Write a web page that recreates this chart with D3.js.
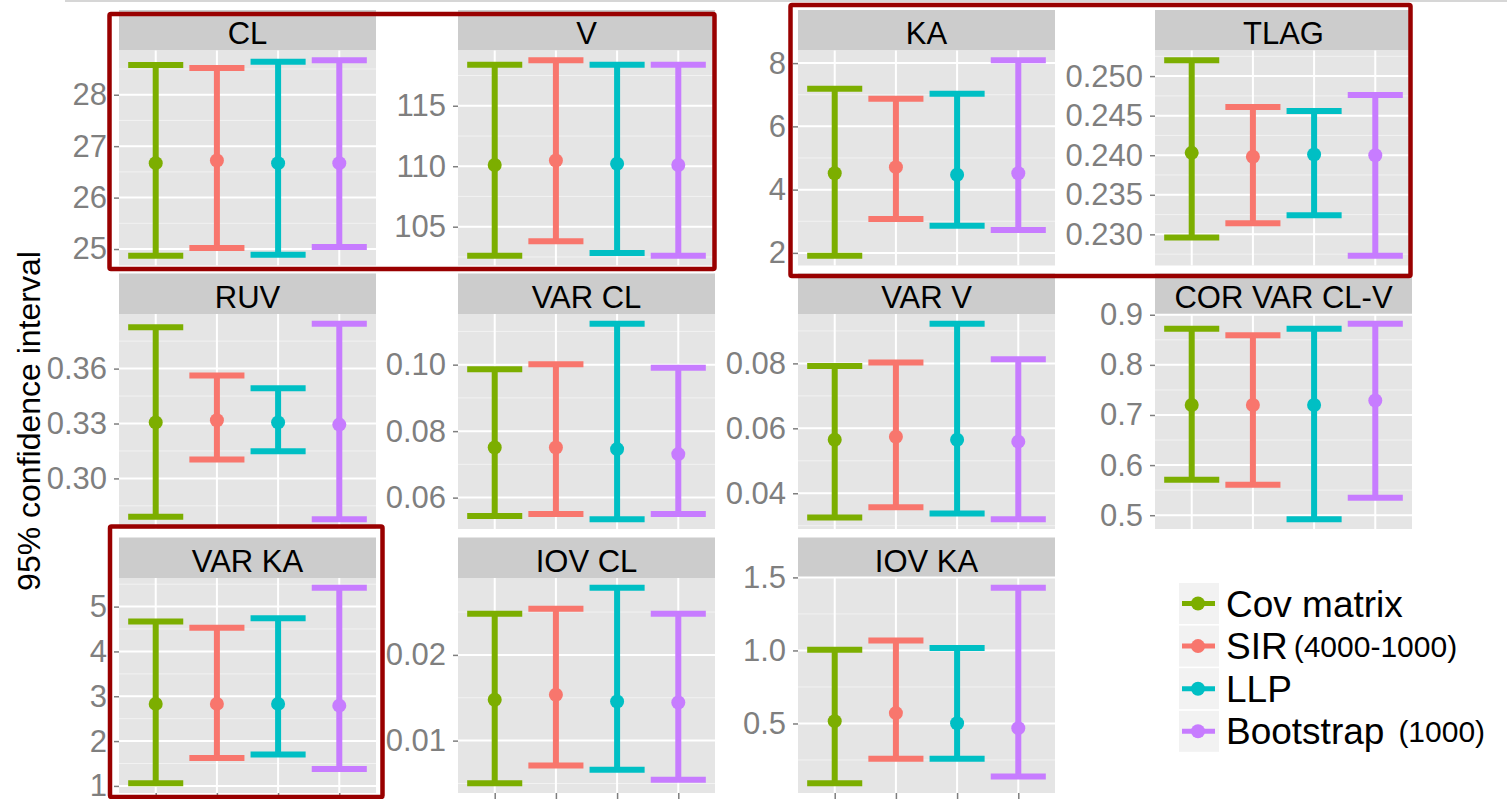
<!DOCTYPE html>
<html>
<head>
<meta charset="utf-8">
<script src="https://cdn.jsdelivr.net/npm/d3@7"></script>
<style>
  html, body { margin: 0; padding: 0; background: #ffffff; }
  svg { display: block; }
  text { font-family: "Liberation Sans", Arial, sans-serif; }
</style>
</head>
<body>
<script>
// ---------------- data ----------------
const panels = ["CL", "V", "KA", "TLAG", "RUV", "VAR CL", "VAR V", "COR VAR CL-V", "VAR KA", "IOV CL", "IOV KA"];
const methods = ["Cov matrix", "SIR", "LLP", "Bootstrap"];
const methodNotes = ["", "(4000-1000)", "", "(1000)"];
const colors = ["#7CAE00", "#F8766D", "#00BFC4", "#C77CFF"];

// lower bound / estimate / upper bound per method, in panel order
const covLower = [24.87, 102.6, 1.91, 0.2296, 0.279, 0.0545, 0.0325, 0.571, 1.06, 0.00503, 0.091];
const covEst   = [26.67, 110.1, 4.52, 0.2403, 0.3306, 0.0751, 0.0565, 0.720, 2.83, 0.01477, 0.516];
const covUpper = [28.58, 118.4, 7.19, 0.2520, 0.3826, 0.0986, 0.0792, 0.872, 4.67, 0.0248, 1.005];

const sirLower = [25.02, 103.79, 3.07, 0.2314, 0.3103, 0.0551, 0.0357, 0.561, 1.62, 0.00709, 0.258];
const sirEst   = [26.72, 110.47, 4.71, 0.2398, 0.3318, 0.0751, 0.0574, 0.720, 2.83, 0.01535, 0.571];
const sirUpper = [28.52, 118.76, 6.87, 0.2461, 0.3562, 0.1001, 0.0803, 0.859, 4.53, 0.02538, 1.068];

const llpLower = [24.89, 102.83, 2.86, 0.2324, 0.3148, 0.0535, 0.0338, 0.492, 1.70, 0.00659, 0.258];
const llpEst   = [26.67, 110.2, 4.47, 0.2401, 0.3306, 0.0746, 0.0565, 0.720, 2.83, 0.01457, 0.502];
const llpUpper = [28.64, 118.4, 7.03, 0.2456, 0.3493, 0.1123, 0.0922, 0.872, 4.74, 0.02783, 1.016];

const bootLower = [25.04, 102.6, 2.72, 0.2273, 0.2777, 0.0551, 0.0320, 0.535, 1.38, 0.00543, 0.137];
const bootEst   = [26.67, 110.1, 4.52, 0.2400, 0.3294, 0.0731, 0.0559, 0.729, 2.79, 0.01445, 0.468];
const bootUpper = [28.67, 118.4, 8.09, 0.2476, 0.3845, 0.0991, 0.0813, 0.882, 5.42, 0.0248, 1.429];

const yTickLabels = [
  ["25", "26", "27", "28"],
  ["105", "110", "115"],
  ["2", "4", "6", "8"],
  ["0.230", "0.235", "0.240", "0.245", "0.250"],
  ["0.30", "0.33", "0.36"],
  ["0.06", "0.08", "0.10"],
  ["0.04", "0.06", "0.08"],
  ["0.5", "0.6", "0.7", "0.8", "0.9"],
  ["1", "2", "3", "4", "5"],
  ["0.01", "0.02"],
  ["0.5", "1.0", "1.5"]
];
const yTitle = "95% confidence interval";

const lowers = [covLower, sirLower, llpLower, bootLower];
const ests = [covEst, sirEst, llpEst, bootEst];
const uppers = [covUpper, sirUpper, llpUpper, bootUpper];

// ---------------- layout ----------------
const W = 1507, H = 799;
const colLeft = [119, 458, 798, 1155];
const panelW = 257;
const stripTop = [10, 273.5, 537.5];
const stripH = 40.5;
const panelH = 215;

const svg = d3.select("body").append("svg").attr("width", W).attr("height", H);

// thin grey line on top
svg.append("line").attr("x1", 65).attr("x2", W).attr("y1", 1).attr("y2", 1)
  .attr("stroke", "#c8c8c8").attr("stroke-width", 1.5);

panels.forEach((name, i) => {
  const row = Math.floor(i / 4), col = i % 4;
  const x0 = colLeft[col], x1 = x0 + panelW;
  const sTop = stripTop[row];
  const pTop = sTop + stripH, pBot = pTop + panelH;

  const lo = d3.min(lowers, a => a[i]);
  const hi = d3.max(uppers, a => a[i]);
  const pad = (hi - lo) * 0.05;
  const y = d3.scaleLinear().domain([lo - pad, hi + pad]).range([pBot, pTop]);
  const x = d3.scalePoint().domain(methods).range([x0, x1]).padding(0.6);
  const step = x.step();

  const g = svg.append("g");
  // strip
  g.append("rect").attr("x", x0).attr("y", sTop).attr("width", panelW).attr("height", stripH)
    .attr("fill", "#CCCCCC");
  g.append("text").attr("x", (x0 + x1) / 2).attr("y", sTop + stripH / 2 + 14)
    .attr("text-anchor", "middle").attr("font-size", 31).attr("fill", "#000").text(name);

  // panel background
  g.append("rect").attr("x", x0).attr("y", pTop).attr("width", panelW).attr("height", panelH)
    .attr("fill", "#E5E5E5");

  const majors = yTickLabels[i].map(Number);
  const d = majors[1] - majors[0];
  const minors = [majors[0] - d / 2].concat(majors.map(v => v + d / 2))
    .filter(v => v >= y.domain()[0] && v <= y.domain()[1]);

  g.selectAll(".minor").data(minors).enter().append("line")
    .attr("x1", x0).attr("x2", x1).attr("y1", v => y(v)).attr("y2", v => y(v))
    .attr("stroke", "#F2F2F2").attr("stroke-width", 1);
  g.selectAll(".major").data(majors).enter().append("line")
    .attr("x1", x0).attr("x2", x1).attr("y1", v => y(v)).attr("y2", v => y(v))
    .attr("stroke", "#FFFFFF").attr("stroke-width", 2);
  g.selectAll(".vgrid").data(methods).enter().append("line")
    .attr("x1", m => x(m)).attr("x2", m => x(m)).attr("y1", pTop).attr("y2", pBot)
    .attr("stroke", "#FFFFFF").attr("stroke-width", 2);

  // y axis
  const yAxis = d3.axisLeft(y).tickValues(majors)
    .tickFormat((v, k) => yTickLabels[i][k]).tickSize(5).tickPadding(7);
  const ag = g.append("g").attr("transform", `translate(${x0},0)`).call(yAxis);
  ag.select(".domain").remove();
  ag.selectAll(".tick line").attr("stroke", "#7F7F7F").attr("stroke-width", 1.5);
  ag.selectAll(".tick text").attr("fill", "#7F7F7F").attr("font-size", 31)
    .attr("font-family", "Liberation Sans, Arial, sans-serif");

  // x axis ticks only on bottom row
  if (row === 2) {
    const xAxis = d3.axisBottom(x).tickFormat("").tickSize(6);
    const xg = g.append("g").attr("transform", `translate(0,${pBot})`).call(xAxis);
    xg.select(".domain").remove();
    xg.selectAll(".tick line").attr("stroke", "#7F7F7F").attr("stroke-width", 1.5);
  }

  // error bars
  methods.forEach((m, k) => {
    const cx = x(m);
    const half = step * 0.45;
    const c = colors[k];
    g.append("line").attr("x1", cx).attr("x2", cx)
      .attr("y1", y(lowers[k][i])).attr("y2", y(uppers[k][i]))
      .attr("stroke", c).attr("stroke-width", 6);
    [lowers[k][i], uppers[k][i]].forEach(v => {
      g.append("line").attr("x1", cx - half).attr("x2", cx + half)
        .attr("y1", y(v)).attr("y2", y(v)).attr("stroke", c).attr("stroke-width", 6);
    });
    g.append("circle").attr("cx", cx).attr("cy", y(ests[k][i])).attr("r", 7).attr("fill", c);
  });
});

// y axis title
svg.append("text").attr("transform", "translate(40,421) rotate(-90)")
  .attr("text-anchor", "middle").attr("font-size", 32).attr("fill", "#000").text(yTitle);

// legend
const legX = 1179, legY = 583, keyW = 40, keyH = 41, keyStep = 42.6;
methods.forEach((m, k) => {
  const ky = legY + k * keyStep;
  const lg = svg.append("g");
  lg.append("rect").attr("x", legX).attr("y", ky).attr("width", keyW).attr("height", keyH).attr("fill", "#F2F2F2");
  lg.append("line").attr("x1", legX + 3).attr("x2", legX + keyW - 4)
    .attr("y1", ky + keyH / 2).attr("y2", ky + keyH / 2)
    .attr("stroke", colors[k]).attr("stroke-width", 5);
  lg.append("circle").attr("cx", legX + keyW / 2 - 1).attr("cy", ky + keyH / 2).attr("r", 7).attr("fill", colors[k]);
  const t = lg.append("text").attr("x", 1226).attr("y", ky + keyH / 2 + 13)
    .attr("font-size", 37).attr("fill", "#000").text(m);
  if (methodNotes[k]) {
    const w = t.node().getComputedTextLength();
    lg.append("text").attr("x", 1226 + w + (k === 1 ? 6 : 14)).attr("y", ky + keyH / 2 + 11)
      .attr("font-size", 30).attr("fill", "#000").text(methodNotes[k]);
  }
});

// highlight boxes
const boxes = [
  [109.5, 14, 714.5, 269],
  [790.5, 5, 1410.5, 276],
  [110, 526.5, 382.5, 797]
];
svg.selectAll(".hbox").data(boxes).enter().append("rect")
  .attr("x", b => b[0]).attr("y", b => b[1])
  .attr("width", b => b[2] - b[0]).attr("height", b => b[3] - b[1])
  .attr("fill", "none").attr("stroke", "#990000").attr("stroke-width", 4.5).attr("rx", 1.5);
</script>
</body>
</html>
